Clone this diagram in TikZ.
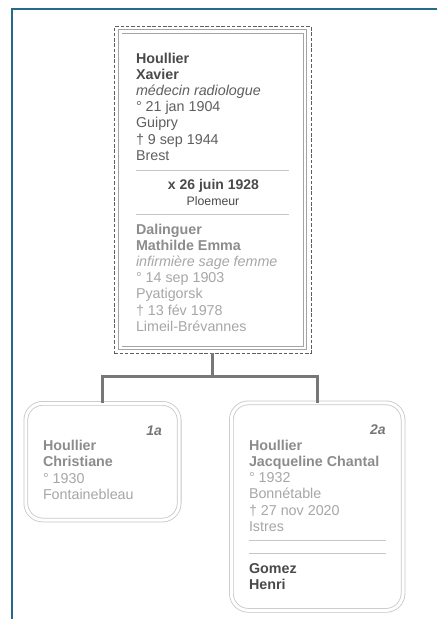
\documentclass[tikz,border=0pt]{standalone}
\usepackage{fontspec}
\setmainfont{Liberation Sans}
\usetikzlibrary{positioning}
\definecolor{edgeblue}{HTML}{236A8C}
\definecolor{inkdark}{HTML}{4A4A4A}
\definecolor{inkmid}{HTML}{5E5E5E}
\definecolor{inkname}{HTML}{8C8C8C}
\definecolor{inklight}{HTML}{A6A6A6}
\definecolor{boxgray}{HTML}{A4A4A4}
\definecolor{kidgray}{HTML}{C6C6C6}
\definecolor{linkgray}{HTML}{777777}
\begin{document}
\begin{tikzpicture}[x=1pt,y=-1pt,inner sep=0pt,outer sep=0pt,font=\fontsize{14.3}{16}\selectfont,
  line/.style={anchor=base west},
  couplebox/.style={draw=boxgray,double=white,double distance=2.6pt,line width=0.8pt},
  kidbox/.style={draw=kidgray,double=white,double distance=3pt,line width=0.8pt,rounded corners=17pt},
  dashbox/.style={draw=inkmid,line width=1.1pt,dash pattern=on 3.5pt off 1.8pt},
  link/.style={draw=linkgray,line width=2.6pt},
  rule/.style={draw=kidgray,line width=0.8pt}]
	\useasboundingbox (0,0) rectangle (437,619);
	\draw[edgeblue,line width=2pt](11.5,619)--(11.5,9)--(437,9);
	% couple
	\node[dashbox,minimum width=196.7pt,minimum height=326.6pt] (couple) at (212.7,190) {};
	\node[couplebox,minimum width=184.7pt,minimum height=316.5pt] (coupleinner) at (212.7,189.7) {};
	\foreach \t [count=\i from 0] in {{\bfseries\color{inkdark}Houllier},{\bfseries\color{inkdark}Xavier},{\itshape médecin radiologue},° 21 jan 1904,Guipry,† 9 sep 1944,Brest}
		\node[line,text=inkmid] (xav\i) at (136,63+16.2*\i) {\t};
	\draw[rule](136,170)--(289,170);
	\node[anchor=base,text=inkdark,font=\fontsize{14}{16}\selectfont\bfseries] (wed) at (213.5,189) {x 26 juin 1928};
	\node[anchor=base,text=inkdark,font=\fontsize{12.3}{14}\selectfont] (wedplace) at (213,205) {Ploemeur};
	\draw[rule](136,214)--(289,214);
	\foreach \t [count=\i from 0] in {{\bfseries\color{inkname}Dalinguer},{\bfseries\color{inkname}Mathilde Emma},{\itshape infirmière sage femme},° 14 sep 1903,Pyatigorsk,† 13 fév 1978,Limeil-Brévannes}
		\node[line,text=inklight] (mat\i) at (136,234+16.2*\i) {\t};
	% children
	\node[kidbox,minimum width=153.4pt,minimum height=116.7pt] (kid1) at (102.5,461.7) {};
	\node[kidbox,minimum width=171.7pt,minimum height=207.5pt] (kid2) at (317.2,506.6) {};
	\coordinate[below=23pt of couple.south] (fork);
	\draw[link](couple.south)--(fork)-|(kid1.north);
	\draw[link](fork)-|(kid2.north);
	\node[anchor=base east,text=linkgray,font=\fontsize{14}{16}\selectfont\bfseries\itshape] (num1) at (162,435) {1a};
	\foreach \t [count=\i from 0] in {{\bfseries\color{inkname}Houllier},{\bfseries\color{inkname}Christiane},° 1930,Fontainebleau}
		\node[line,text=inklight] (chr\i) at (43,450+16.5*\i) {\t};
	\node[anchor=base east,text=linkgray,font=\fontsize{14}{16}\selectfont\bfseries\itshape] (num2) at (385.7,434) {2a};
	\foreach \t [count=\i from 0] in {{\bfseries\color{inkname}Houllier},{\bfseries\color{inkname}Jacqueline Chantal},° 1932,Bonnétable,† 27 nov 2020,Istres}
		\node[line,text=inklight] (jac\i) at (249,450+16.3*\i) {\t};
	\draw[rule](249,540.7)--(385.7,540.7);
	\draw[rule](249,553.3)--(385.7,553.3);
	\node[line,text=inkdark,font=\fontsize{14.3}{16}\selectfont\bfseries] (gom) at (249,573) {Gomez};
	\node[line,text=inkdark,font=\fontsize{14.3}{16}\selectfont\bfseries] (hen) at (249,589.5) {Henri};
\end{tikzpicture}
\end{document}
